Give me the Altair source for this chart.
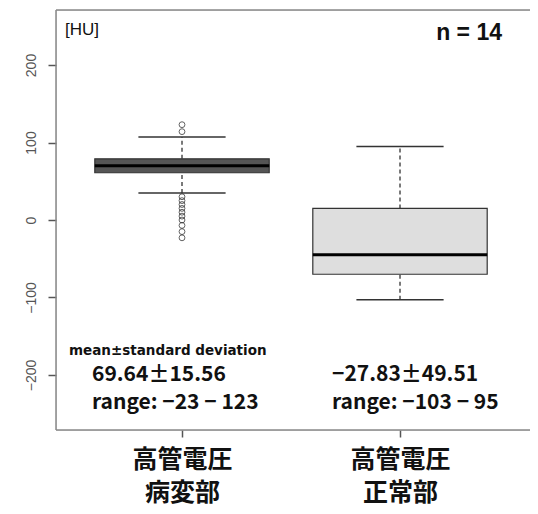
import altair as alt
import pandas as pd

# ---- data ----
positions = [1, 2]
label_line1 = ["高管電圧", "高管電圧"]
label_line2 = ["病変部", "正常部"]
q1 = [61, -70]
median = [70, -45]
q3 = [79, 15]
whisk_lo = [35, -103]
whisk_hi = [107, 95]
box_fill = ["#555555", "#dedede"]

outlier_pos = [1] * 12
outlier_vals = [123, 114, 30, 25, 20, 15, 10, 5, 0, -7, -15, -23]

stat_mean = ["69.64±15.56", "−27.83±49.51"]
stat_range = ["range: −23 − 123", "range: −103 − 95"]

y_ticks = [-200, -100, 0, 100, 200]

boxes = pd.DataFrame({
    "pos": positions, "q1": q1, "median": median, "q3": q3,
    "lo": whisk_lo, "hi": whisk_hi, "fill": box_fill,
})
outliers = pd.DataFrame({"pos": outlier_pos, "val": outlier_vals})

W = 474
H = 420
XDOM = [0.422, 0.422 + W / 218]
YDOM = [-271, 271]

label_expr = " : ".join(
    f"datum.value == {p} ? ['{a}', '{b}']" for p, a, b in zip(positions, label_line1, label_line2)
) + " : ''"

x_enc = alt.X("pos:Q", scale=alt.Scale(domain=XDOM, nice=False, zero=False),
              axis=alt.Axis(values=positions, labelExpr=label_expr, title=None, grid=False,
                            domain=False, tickSize=7, tickColor="#555", tickWidth=1.5,
                            labelFont="Noto Sans CJK JP", labelFontSize=25,
                            labelFontWeight="bold", labelColor="#111", labelPadding=10,
                            labelLineHeight=33))

def ysc(field):
    return alt.Y(field, scale=alt.Scale(domain=YDOM, nice=False, zero=False),
                 axis=alt.Axis(values=y_ticks, title=None, grid=False, domain=False,
                               tickSize=8, tickColor="#555", tickWidth=1.5,
                               labelAngle=270, labelFont="Liberation Sans",
                               labelFontSize=14, labelColor="#555", labelPadding=10,
                               labelAlign="center", labelBaseline="bottom"))

base = alt.Chart(boxes)

whisk_up = base.mark_rule(color="#222", strokeDash=[4, 3], strokeWidth=1.2).encode(
    x=x_enc, y=ysc("q3:Q"), y2="hi:Q")
whisk_dn = base.mark_rule(color="#222", strokeDash=[4, 3], strokeWidth=1.2).encode(
    x="pos:Q", y="lo:Q", y2="q1:Q")

caps_hi = base.transform_calculate(a="datum.pos - 0.2", b="datum.pos + 0.2").mark_rule(
    color="#333", strokeWidth=1.5).encode(x="a:Q", x2="b:Q", y="hi:Q")
caps_lo = base.transform_calculate(a="datum.pos - 0.2", b="datum.pos + 0.2").mark_rule(
    color="#333", strokeWidth=1.5).encode(x="a:Q", x2="b:Q", y="lo:Q")

box = base.transform_calculate(a="datum.pos - 0.4", b="datum.pos + 0.4").mark_rect(
    stroke="#333", strokeWidth=1.2).encode(
    x="a:Q", x2="b:Q", y="q1:Q", y2="q3:Q",
    fill=alt.Fill("fill:N", scale=None))

med = base.transform_calculate(a="datum.pos - 0.4", b="datum.pos + 0.4").mark_rule(
    color="#000", strokeWidth=3).encode(x="a:Q", x2="b:Q", y="median:Q")

outl = alt.Chart(outliers).mark_point(shape="circle", filled=False, color="#222",
                                      size=34, strokeWidth=1).encode(x="pos:Q", y="val:Q")

# frame (left, top, bottom; the right side runs off the picture in the reference)
frame_src = alt.Chart(pd.DataFrame({"k": [0]}))
f_top = frame_src.mark_rule(color="#888", strokeWidth=1.5).encode(
    x=alt.value(0), x2=alt.value(W), y=alt.value(0))
f_bot = frame_src.mark_rule(color="#888", strokeWidth=1.5).encode(
    x=alt.value(0), x2=alt.value(W), y=alt.value(H))
f_left = frame_src.mark_rule(color="#888", strokeWidth=1.5).encode(
    x=alt.value(0), y=alt.value(0), y2=alt.value(H))

# annotations
hu = alt.Chart(pd.DataFrame({"t": ["[HU]"]})).mark_text(
    align="left", baseline="middle", fontSize=17, font="Liberation Sans",
    color="#111").encode(x=alt.value(9), y=alt.value(20), text="t:N")
nn = alt.Chart(pd.DataFrame({"t": ["n = 14"]})).mark_text(
    align="right", baseline="middle", fontSize=23, font="Liberation Sans",
    fontWeight="bold", color="#111").encode(x=alt.value(446), y=alt.value(23), text="t:N")
msd = alt.Chart(pd.DataFrame({"t": ["mean±standard deviation"]})).mark_text(
    align="left", baseline="middle", fontSize=13.5, font="DejaVu Sans",
    fontWeight="bold", color="#111").encode(x=alt.value(13), y=alt.value(341), text="t:N")

stats = pd.DataFrame({"pos": positions, "m": stat_mean, "r": stat_range})
txt_x = [36, 276]
layers_txt = []
for i, p in enumerate(positions):
    sub = alt.Chart(stats).transform_filter(f"datum.pos == {p}")
    layers_txt.append(sub.mark_text(
        align="left", baseline="middle", fontSize=21, font="Noto Sans CJK JP",
        fontWeight="bold", color="#111").encode(x=alt.value(txt_x[i]), y=alt.value(365), text="m:N"))
    layers_txt.append(sub.mark_text(
        align="left", baseline="middle", fontSize=21, font="Noto Sans CJK JP",
        fontWeight="bold", color="#111").encode(x=alt.value(txt_x[i]), y=alt.value(393), text="r:N"))

chart = alt.layer(whisk_up, whisk_dn, caps_hi, caps_lo, box, med, outl,
                  f_top, f_bot, f_left, hu, nn, msd, *layers_txt).properties(
    width=W, height=H,
    autosize=alt.AutoSizeParams(type="none"),
    padding={"left": 48, "top": 2, "right": 0, "bottom": 76},
).configure_view(stroke=None).configure(background="white")

chart.save("out.html", embed_options={"renderer": "svg", "actions": False})
